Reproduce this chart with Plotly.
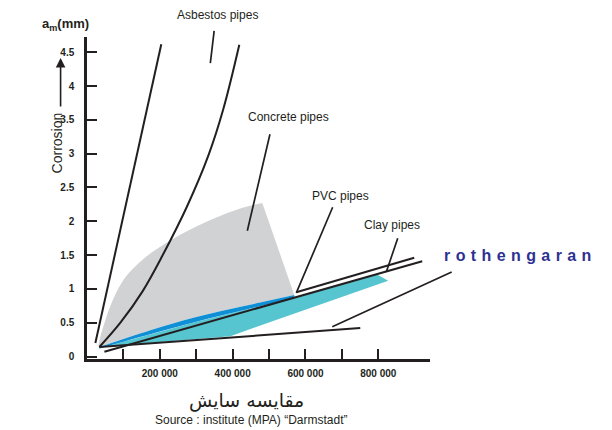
import plotly.graph_objects as go

# ---------------- data ----------------
x_tickvals = [100000, 200000, 300000, 400000, 500000, 600000, 700000, 800000]
x_ticktext = ["", "200 000", "", "400 000", "", "600 000", "", "800 000"]
y_tickvals = [0, 0.5, 1, 1.5, 2, 2.5, 3, 3.5, 4, 4.5]
y_ticktext = ["0", "0.5", "1", "1.5", "2", "2.5", "3", "3.5", "4", "4.5"]

# steep asbestos line
asb_x = [23000, 204000]
asb_y = [0.20, 4.62]

# second (curved) line
conc_x = [34000, 91700, 152100, 207000, 275600, 333200, 374400, 418300]
conc_y = [0.14, 0.50, 0.96, 1.49, 2.23, 2.97, 3.66, 4.61]

# grey envelope top edge (ends at its peak)
grey_x = [31300, 39500, 50500, 64200, 80700, 99900, 124600, 165800, 215200,
          270100, 338700, 421100, 481500]
grey_y = [0.17, 0.35, 0.54, 0.75, 0.95, 1.13, 1.29, 1.49, 1.67,
          1.84, 2.02, 2.19, 2.27]

# blue band
blue_top_x = [34000, 174000, 297600, 434800, 569300]
blue_top_y = [0.14, 0.39, 0.58, 0.75, 0.91]
blue_bot_x = [34000, 174000, 297600, 434800, 569300]
blue_bot_y = [0.12, 0.33, 0.51, 0.69, 0.86]

# cyan band outline
cyan_x = [34000, 174000, 297600, 434800, 569300, 794300, 827200, 503500, 393600, 34000]
cyan_y = [0.12, 0.33, 0.51, 0.69, 0.86, 1.22, 1.12, 0.51, 0.30, 0.14]

# PVC line (upper) and long line (lower)
pvc_x = [574800, 898700]
pvc_y = [0.95, 1.46]
long_x = [47800, 920700]
long_y = [0.07, 1.41]

# clay line
clay_x = [34000, 750500]
clay_y = [0.14, 0.42]

# leader lines (head -> tail)
leaders = {
    "asbestos": [(338700, 4.34), (349700, 4.84)],
    "concrete": [(440300, 1.86), (503400, 3.31)],
    "pvc": [(574800, 0.94), (676400, 2.23)],
    "clay": [(821900, 1.25), (854800, 1.77)],
    "extra": [(673600, 0.44), (1005700, 1.26)],
}

labels = {
    "Concrete pipes": (553300, 3.54),
    "PVC pipes": (696200, 2.37),
    "Clay pipes": (838300, 1.95),
}

INK = "#231f20"
GREY = "#d1d2d4"
BLUE = "#0f8fd6"
CYAN = "#56c5d0"
FONT = "Liberation Sans"

fig = go.Figure()

# grey envelope: between blue top edge and grey top edge
fig.add_trace(go.Scatter(x=blue_top_x, y=blue_top_y, mode="lines",
                         line=dict(width=0, shape="spline"), hoverinfo="skip"))
fig.add_trace(go.Scatter(x=grey_x, y=grey_y, mode="lines", fill="tonexty",
                         fillcolor=GREY, line=dict(width=0, shape="spline", smoothing=1),
                         hoverinfo="skip"))
# cyan band
fig.add_trace(go.Scatter(x=cyan_x, y=cyan_y, fill="toself", fillcolor=CYAN,
                         mode="lines", line=dict(width=0), hoverinfo="skip"))
# blue band
fig.add_trace(go.Scatter(x=blue_top_x, y=blue_top_y, mode="lines",
                         line=dict(width=0, shape="spline"), hoverinfo="skip"))
fig.add_trace(go.Scatter(x=blue_bot_x, y=blue_bot_y, mode="lines", fill="tonexty",
                         fillcolor=BLUE, line=dict(width=0, shape="spline"),
                         hoverinfo="skip"))

for xs, ys, shape in [(asb_x, asb_y, "linear"), (conc_x, conc_y, "spline"),
                      (pvc_x, pvc_y, "linear"), (long_x, long_y, "linear"),
                      (clay_x, clay_y, "linear")]:
    fig.add_trace(go.Scatter(x=xs, y=ys, mode="lines",
                             line=dict(color=INK, width=2, shape=shape, smoothing=1),
                             hoverinfo="skip"))

annotations = []
for name, ((hx, hy), (tx, ty)) in leaders.items():
    annotations.append(dict(
        x=hx, y=hy, xref="x", yref="y", ax=tx, ay=ty, axref="x", ayref="y",
        text="", showarrow=True, arrowhead=0, arrowwidth=1.7,
        arrowcolor=INK, standoff=0, startstandoff=0))

for txt, (lx, ly) in labels.items():
    annotations.append(dict(x=lx, y=ly, xref="x", yref="y", text=txt,
                            showarrow=False, xanchor="center", yanchor="middle",
                            font=dict(family=FONT, size=12, color=INK)))

C = dict(xanchor="center", yanchor="middle")
annotations += [
    dict(x=0.38, y=1.068, xref="paper", yref="paper", text="Asbestos pipes",
         showarrow=False, font=dict(family=FONT, size=12, color=INK), **C),
    dict(x=1.265, y=0.32, xref="paper", yref="paper",
         text='<span style="letter-spacing:5.4px">rothengaran</span>',
         showarrow=False, font=dict(family=FONT, size=16, color="#2e3192", weight="bold"), **C),
    dict(x=-0.062, y=1.04, xref="paper", yref="paper",
         text="a<sub>m</sub>(mm)", showarrow=False,
         font=dict(family=FONT, size=13, color=INK, weight="bold"), **C),
    dict(x=-0.088, y=0.672, xref="paper", yref="paper", text="Corrosion",
         textangle=-90, showarrow=False,
         font=dict(family=FONT, size=14, color=INK), **C),
    dict(x=-0.077, y=0.935, xref="paper", yref="paper", text="",
         showarrow=True, ax=0, ay=50, arrowhead=2, arrowsize=1.2,
         arrowwidth=1.6, arrowcolor=INK, standoff=0, startstandoff=0),
    dict(x=0.466, y=-0.13, xref="paper", yref="paper", text="مقایسه سایش",
         showarrow=False, font=dict(family="DejaVu Sans", size=19, color=INK), **C),
    dict(x=0.481, y=-0.189, xref="paper", yref="paper",
         text="Source : institute (MPA) \u201cDarmstadt\u201d", showarrow=False,
         font=dict(family=FONT, size=12, color=INK), **C),
]

fig.update_layout(
    width=604, height=422,
    margin=dict(l=79, r=182, t=29, b=71),
    paper_bgcolor="white", plot_bgcolor="white",
    showlegend=False,
    annotations=annotations,
    xaxis=dict(range=[0, 942000], showline=True, linecolor=INK, linewidth=2.5,
               ticks="inside", ticklen=10, tickwidth=1.8, tickcolor=INK,
               tickvals=x_tickvals, ticktext=x_ticktext, showgrid=False,
               zeroline=False, ticklabelstandoff=3,
               tickfont=dict(family=FONT, size=10, color=INK, weight="bold")),
    yaxis=dict(range=[-0.037, 4.726], showline=True, linecolor=INK, linewidth=2.5,
               ticks="inside", ticklen=10, tickwidth=1.8, tickcolor=INK,
               tickvals=y_tickvals, ticktext=y_ticktext, showgrid=False,
               zeroline=False, ticklabelstandoff=8,
               tickfont=dict(family=FONT, size=10, color=INK, weight="bold")),
)

fig.write_html("out.html")
